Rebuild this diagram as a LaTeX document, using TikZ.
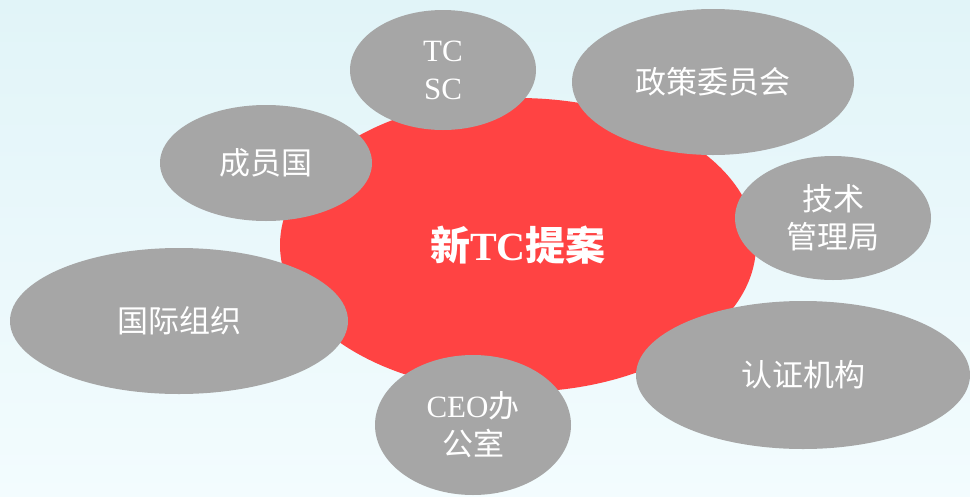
\documentclass[tikz,border=0pt]{standalone}
\usepackage{fontspec}
\setmainfont{Liberation Serif}
\newfontfamily\cjk{Noto Sans CJK SC}
\usetikzlibrary{shapes.geometric}
\definecolor{bgtop}{HTML}{E1F4F8}
\definecolor{bgbottom}{HTML}{F3FCFE}
\definecolor{hubred}{HTML}{FF4343}
\definecolor{petalgray}{HTML}{A6A6A6}

\begin{document}
\begin{tikzpicture}[x=1pt,y=-1pt]
	\tikzstyle{hub}=[ellipse,fill=hubred,text=white,inner sep=0pt,font=\fontsize{40}{44}\selectfont\bfseries]
	\tikzstyle{petal}=[ellipse,fill=petalgray,text=white,inner sep=0pt,align=center,font=\fontsize{31}{38}\selectfont]
	\shade[top color=bgtop,bottom color=bgbottom] (0,0) rectangle (970,496);
	\useasboundingbox (0,0) rectangle (970,496);
		\node[hub,minimum width=476pt,minimum height=294pt] (proposal) at (518,245) {{\cjk 新}TC{\cjk 提案}};
		\node[petal,minimum width=186pt,minimum height=120pt] (tcsc) at (443,70) {TC\\SC};
		\node[petal,minimum width=282pt,minimum height=146pt] (policy) at (713,82) {\cjk 政策委员会};
		\node[petal,minimum width=212pt,minimum height=116pt] (members) at (266,163) {\cjk 成员国};
		\node[petal,minimum width=196pt,minimum height=124pt] (tmb) at (833,218) {{\cjk 技术}\\{\cjk 管理局}};
		\node[petal,minimum width=338pt,minimum height=146pt] (intl) at (179,321) {\cjk 国际组织};
		\node[petal,minimum width=196pt,minimum height=140pt] (ceo) at (473,425) {CEO{\cjk 办}\\{\cjk 公室}};
		\node[petal,minimum width=334pt,minimum height=148pt] (cert) at (803,375) {\cjk 认证机构};
\end{tikzpicture}
\end{document}
